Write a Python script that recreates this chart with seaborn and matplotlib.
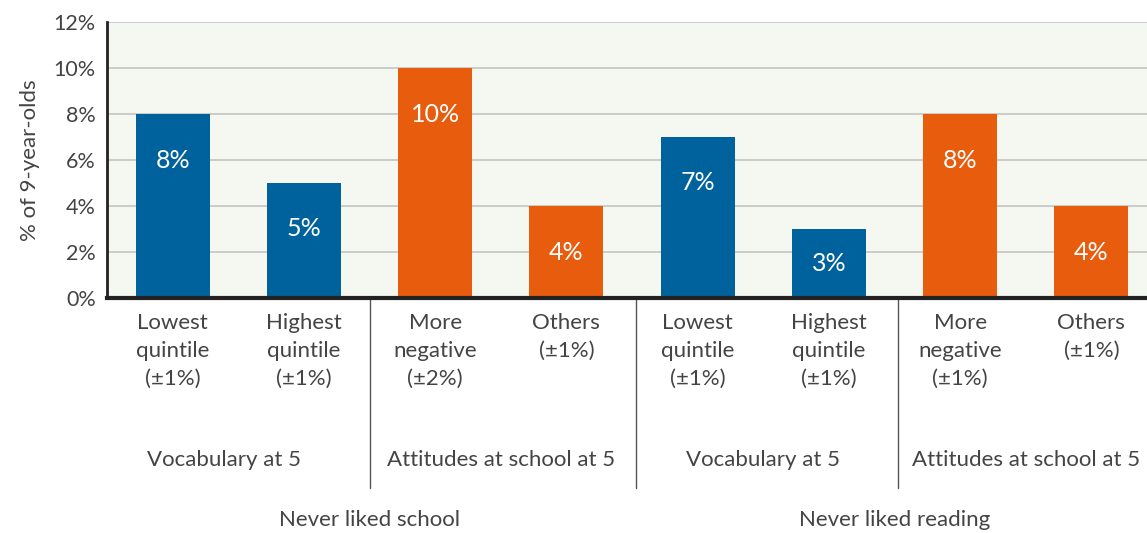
import matplotlib
matplotlib.use("Agg")
import matplotlib.pyplot as plt
import pandas as pd
import seaborn as sns

# data
bar_ids = ["s_low", "s_high", "s_neg", "s_oth", "r_low", "r_high", "r_neg", "r_oth"]
tick_labels = [
    "Lowest\nquintile\n(±1%)", "Highest\nquintile\n(±1%)",
    "More\nnegative\n(±2%)", "Others\n(±1%)",
    "Lowest\nquintile\n(±1%)", "Highest\nquintile\n(±1%)",
    "More\nnegative\n(±1%)", "Others\n(±1%)",
]
values = [8, 5, 10, 4, 7, 3, 8, 4]
kinds = ["Vocabulary", "Vocabulary", "Attitudes", "Attitudes",
         "Vocabulary", "Vocabulary", "Attitudes", "Attitudes"]
sub_groups = ["Vocabulary at 5", "Attitudes at school at 5",
              "Vocabulary at 5", "Attitudes at school at 5"]
main_groups = ["Never liked school", "Never liked reading"]

df = pd.DataFrame({"bar": bar_ids, "value": values, "kind": kinds})

sns.set_style("white")
plt.rcParams["font.family"] = ["Lato", "DejaVu Sans"]
text_col = "#444444"

fig = plt.figure(figsize=(11.47, 5.33), dpi=100)
ax = fig.add_axes([107 / 1147, 235 / 533, 1050 / 1147, 276 / 533])
ax.set_facecolor("#f5f7f1")

sns.barplot(data=df, x="bar", y="value", hue="kind", order=bar_ids,
            palette={"Vocabulary": "#00629c", "Attitudes": "#e85c0d"},
            width=0.565, dodge=False, legend=False, saturation=1,
            linewidth=0, ax=ax)

ax.set_xlim(-0.5, 7.5)
ax.set_ylim(0, 12)
ax.set_yticks(range(0, 13, 2))
ax.set_yticklabels([f"{v}%" for v in range(0, 13, 2)], fontsize=15.5, color=text_col)
ax.set_xticks(range(8))
ax.set_xticklabels(tick_labels, fontsize=16, color=text_col, linespacing=1.5)
ax.tick_params(axis="both", length=0, pad=8)
ax.tick_params(axis="x", pad=11)
ax.yaxis.grid(True, color="#c4c4c4", linewidth=1.2)
ax.set_axisbelow(True)
ax.set_xlabel("")
ax.set_ylabel("% of 9-year-olds", fontsize=16, color=text_col, labelpad=10)

for side in ["top", "right"]:
    ax.spines[side].set_visible(False)
ax.spines["left"].set_color("#222222")
ax.spines["left"].set_linewidth(2)
ax.spines["bottom"].set_color("#222222")
ax.spines["bottom"].set_linewidth(3)

for i, v in enumerate(values):
    ypos = max(v - 2, v / 2)
    ax.text(i, ypos, f"{v}%", ha="center", va="center", color="white", fontsize=18)

trans = ax.get_xaxis_transform()
for xs in [1.5, 3.53, 5.53]:
    ax.plot([xs, xs], [-0.005, -0.69], transform=trans, color="#555555",
            linewidth=1, clip_on=False)
sub_x = [0.39, 2.5, 4.5, 6.5]
for xs, name in zip(sub_x, sub_groups):
    ax.text(xs, -0.587, name, transform=trans, ha="center", va="center",
            fontsize=16, color=text_col)
for xs, name in zip([1.5, 5.5], main_groups):
    ax.text(xs, -0.804, name, transform=trans, ha="center", va="center",
            fontsize=16, color=text_col)

fig.savefig("out.png", dpi=100)
